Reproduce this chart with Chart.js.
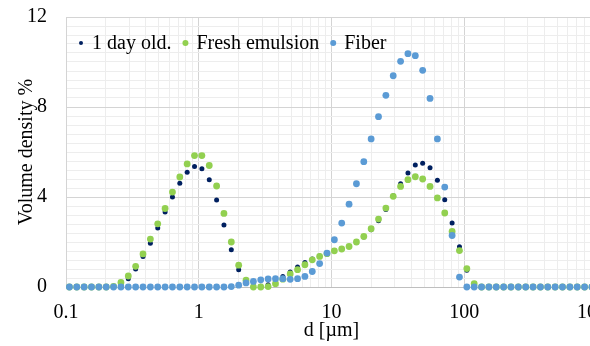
<!DOCTYPE html>
<html><head><meta charset="utf-8">
<script src="https://cdn.jsdelivr.net/npm/chart.js@4/dist/chart.umd.min.js"></script>
<style>
html,body{margin:0;padding:0;background:#fff;overflow:hidden;width:590px;height:346px}
#wrap{position:relative;width:620px;height:346px}
</style></head>
<body><div id="wrap"><canvas id="c" width="620" height="346"></canvas></div>
<script>
// particle size classes (µm)
const sizes = [0.1061,0.1205,0.1369,0.1556,0.1768,0.2009,0.2282,0.2593,0.2946,0.3347,0.3803,0.4321,0.4909,0.5578,0.6337,0.7200,0.8180,0.9292,1.056,1.200,1.363,1.548,1.759,1.999,2.271,2.580,2.931,3.331,3.784,4.299,4.885,5.550,6.305,7.164,8.140,9.248,10.51,11.94,13.56,15.41,17.51,19.89,22.60,25.68,29.17,33.15,37.66,42.79,48.61,55.23,62.75,71.30,81.01,92.04,104.6,118.8,135.0,153.4,174.2,198.0,224.9,255.6,290.3,329.9,374.8,425.8,483.8,549.7,624.5,709.5,806.2,915.9];
const oneDayOld = [0,0,0,0,0,0,0,0.10,0.37,0.80,1.36,1.95,2.62,3.33,4.00,4.61,5.10,5.36,5.26,4.77,3.87,2.76,1.66,0.77,0.22,0.03,0.03,0.10,0.25,0.47,0.67,0.89,1.09,1.25,1.38,1.50,1.60,1.70,1.80,1.98,2.22,2.55,2.95,3.44,4.06,4.59,5.07,5.42,5.50,5.30,4.74,3.88,2.84,1.79,0.75,0,0,0,0,0,0,0,0,0,0,0,0,0,0,0,0,0];
const freshEmulsion = [0,0,0,0,0,0,0.03,0.20,0.49,0.92,1.47,2.13,2.81,3.49,4.22,4.89,5.47,5.84,5.84,5.40,4.49,3.27,2.00,0.97,0.30,0,0,0.02,0.15,0.35,0.58,0.77,0.99,1.21,1.36,1.48,1.61,1.69,1.80,2.00,2.25,2.59,3.02,3.51,4.03,4.47,4.77,4.90,4.80,4.47,3.96,3.29,2.47,1.62,0.82,0.15,0,0,0,0,0,0,0,0,0,0,0,0,0,0,0,0];
const fiber = [0,0,0,0,0,0,0,0,0,0,0,0,0,0,0,0,0,0,0,0,0,0,0.02,0.08,0.18,0.25,0.32,0.36,0.37,0.37,0.34,0.37,0.47,0.69,1.04,1.51,2.10,2.84,3.68,4.59,5.57,6.58,7.57,8.52,9.39,10.03,10.37,10.28,9.63,8.38,6.58,4.44,2.29,0.44,0,0,0,0,0,0,0,0,0,0,0,0,0,0,0,0,0,0];
const seriesNames = ['1 day old.', 'Fresh emulsion', 'Fiber'];
const xTickValues = [0.1, 1, 10, 100, 1000];
const xTickLabels = ['0.1', '1', '10', '100', '1000'];
const yTickValues = [0, 4, 8, 12];
const yTickLabels = ['0', '4', '8', '12'];
const xAxisTitle = 'd [µm]';
const yAxisTitle = 'Volume density %';

const FONT = "'Liberation Serif', 'Times New Roman', serif";
const colors = ['#002060', '#92d050', '#5b9bd5'];
const radii = [2.5, 3.4, 3.4];
const legendRadii = [2, 3, 3];
const MAJOR = '#d4d4d4', MINOR = '#ededed';

function pts(arr){ return sizes.map((s,i)=>({x:s, y:arr[i]})); }
const near = (a,b) => Math.abs(a-b) <= 1e-9*Math.max(1,Math.abs(b));
const xMajorIdx = v => xTickValues.findIndex(m => near(v,m));
const yMajorIdx = v => yTickValues.findIndex(m => near(v,m));

// legend drawn inside the plot area, in one row
const inlineLegend = {
  id: 'inlineLegend',
  afterDatasetsDraw(chart){
    const ctx = chart.ctx, a = chart.chartArea;
    ctx.save();
    ctx.font = '20px ' + FONT;
    ctx.textBaseline = 'middle';
    let x = a.left + 15;
    const y = a.top + 26;
    chart.data.datasets.forEach((ds, i) => {
      ctx.fillStyle = ds.backgroundColor;
      ctx.beginPath(); ctx.arc(x, y, legendRadii[i], 0, Math.PI*2); ctx.fill();
      ctx.fillStyle = '#000';
      ctx.fillText(ds.label, x + 11, y + 1);
      x += 11 + ctx.measureText(ds.label).width + 14;
    });
    ctx.restore();
  }
};

new Chart(document.getElementById('c'), {
  type: 'scatter',
  data: { datasets: [
    { label: seriesNames[0], data: pts(oneDayOld), backgroundColor: colors[0], pointRadius: radii[0], borderWidth: 0, order: 3, clip: false },
    { label: seriesNames[1], data: pts(freshEmulsion), backgroundColor: colors[1], pointRadius: radii[1], borderWidth: 0, order: 2, clip: false },
    { label: seriesNames[2], data: pts(fiber), backgroundColor: colors[2], pointRadius: radii[2], borderWidth: 0, order: 1, clip: false }
  ]},
  options: {
    responsive: false, animation: false, devicePixelRatio: 1,
    layout: { padding: { left: 0, top: 17, right: 23, bottom: 0 } },
    plugins: { tooltip: { enabled: false }, legend: { display: false } },
    scales: {
      x: {
        type: 'logarithmic', min: 0.1, max: 1000,
        afterFit(s){ s.height = 59; s.paddingLeft = 0; s.paddingRight = 0; },
        afterBuildTicks(s){
          const t = [];
          xTickValues.forEach((d,i) => { t.push({value:d}); if (i < xTickValues.length-1) for (let m=2;m<=9;m++) t.push({value:d*m}); });
          s.ticks = t;
        },
        grid: { color: c => (c.tick && xMajorIdx(c.tick.value) >= 0) ? MAJOR : MINOR, lineWidth: 1, drawTicks: false },
        border: { display: true, color: '#bfbfbf', width: 1 },
        ticks: {
          autoSkip: false, maxRotation: 0, padding: 14, color: '#000', font: { family: FONT, size: 20 },
          callback: v => { const i = xMajorIdx(v); return i >= 0 ? xTickLabels[i] : ''; }
        },
        title: { display: true, text: xAxisTitle, color: '#000', font: { family: FONT, size: 20 }, padding: { top: 0, bottom: 3 } }
      },
      y: {
        type: 'linear', min: 0, max: 12,
        afterFit(s){ s.width = 66; s.paddingTop = 0; s.paddingBottom = 0; },
        afterBuildTicks(s){
          const t = [];
          for (let i = 0; i <= 30; i++) t.push({ value: Math.round(i*4)/10 });
          s.ticks = t;
        },
        grid: { color: c => (c.tick && yMajorIdx(c.tick.value) >= 0) ? MAJOR : MINOR, lineWidth: 1, drawTicks: false },
        border: { display: true, color: '#d4d4d4', width: 1 },
        ticks: {
          autoSkip: false, padding: 19, color: '#000', font: { family: FONT, size: 20 },
          callback: v => { const i = yMajorIdx(v); return i >= 0 ? yTickLabels[i] : ''; }
        },
        title: { display: true, text: yAxisTitle, color: '#000', font: { family: FONT, size: 20 }, padding: { top: 15, bottom: 0 } }
      }
    }
  },
  plugins: [inlineLegend]
});
</script>
</body></html>
